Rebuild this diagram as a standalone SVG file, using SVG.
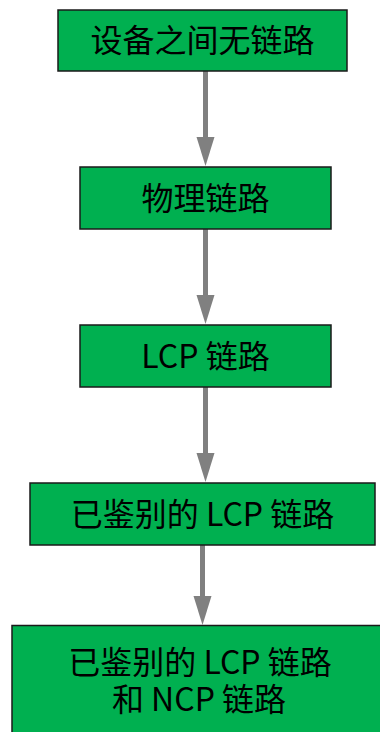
<svg xmlns="http://www.w3.org/2000/svg" width="380" height="732" viewBox="0 0 380 732">
<style>
.box{fill:#00B050;stroke:#1a1a1a;stroke-width:1.5}
.t{font-family:"Noto Sans CJK SC","Microsoft YaHei",sans-serif;font-size:32px;fill:#000;text-anchor:middle}
.c{stroke:#808080;stroke-width:5;fill:none}
.h{fill:#808080}
</style>
<rect width="380" height="732" fill="#fff"/>
<g id="connectors">
<line class="c" x1="205.5" y1="71" x2="205.5" y2="140"/>
<polygon class="h" points="196.5,137 214.5,137 205.5,166"/>
<line class="c" x1="205.5" y1="229" x2="205.5" y2="298"/>
<polygon class="h" points="196.5,295 214.5,295 205.5,324"/>
<line class="c" x1="205.5" y1="387" x2="205.5" y2="456"/>
<polygon class="h" points="196.5,453 214.5,453 205.5,482"/>
<line class="c" x1="202.5" y1="545" x2="202.5" y2="599"/>
<polygon class="h" points="193.5,596 211.5,596 202.5,625"/>
</g>
<g id="n1"><rect class="box" x="58" y="10" width="289" height="61"/><text class="t" x="202.5" y="52">设备之间无链路</text></g>
<g id="n2"><rect class="box" x="80" y="167" width="251" height="62"/><text class="t" x="205.5" y="210">物理链路</text></g>
<g id="n3"><rect class="box" x="80" y="325" width="251" height="62"/><text class="t" x="205.5" y="368">LCP 链路</text></g>
<g id="n4"><rect class="box" x="30" y="483" width="345" height="62"/><text class="t" x="202.5" y="526">已鉴别的 LCP 链路</text></g>
<g id="n5"><rect class="box" x="12" y="625.5" width="380" height="120"/><text class="t"><tspan x="200" y="674">已鉴别的 LCP 链路</tspan><tspan x="199" y="711">和 NCP 链路</tspan></text></g>
</svg>
